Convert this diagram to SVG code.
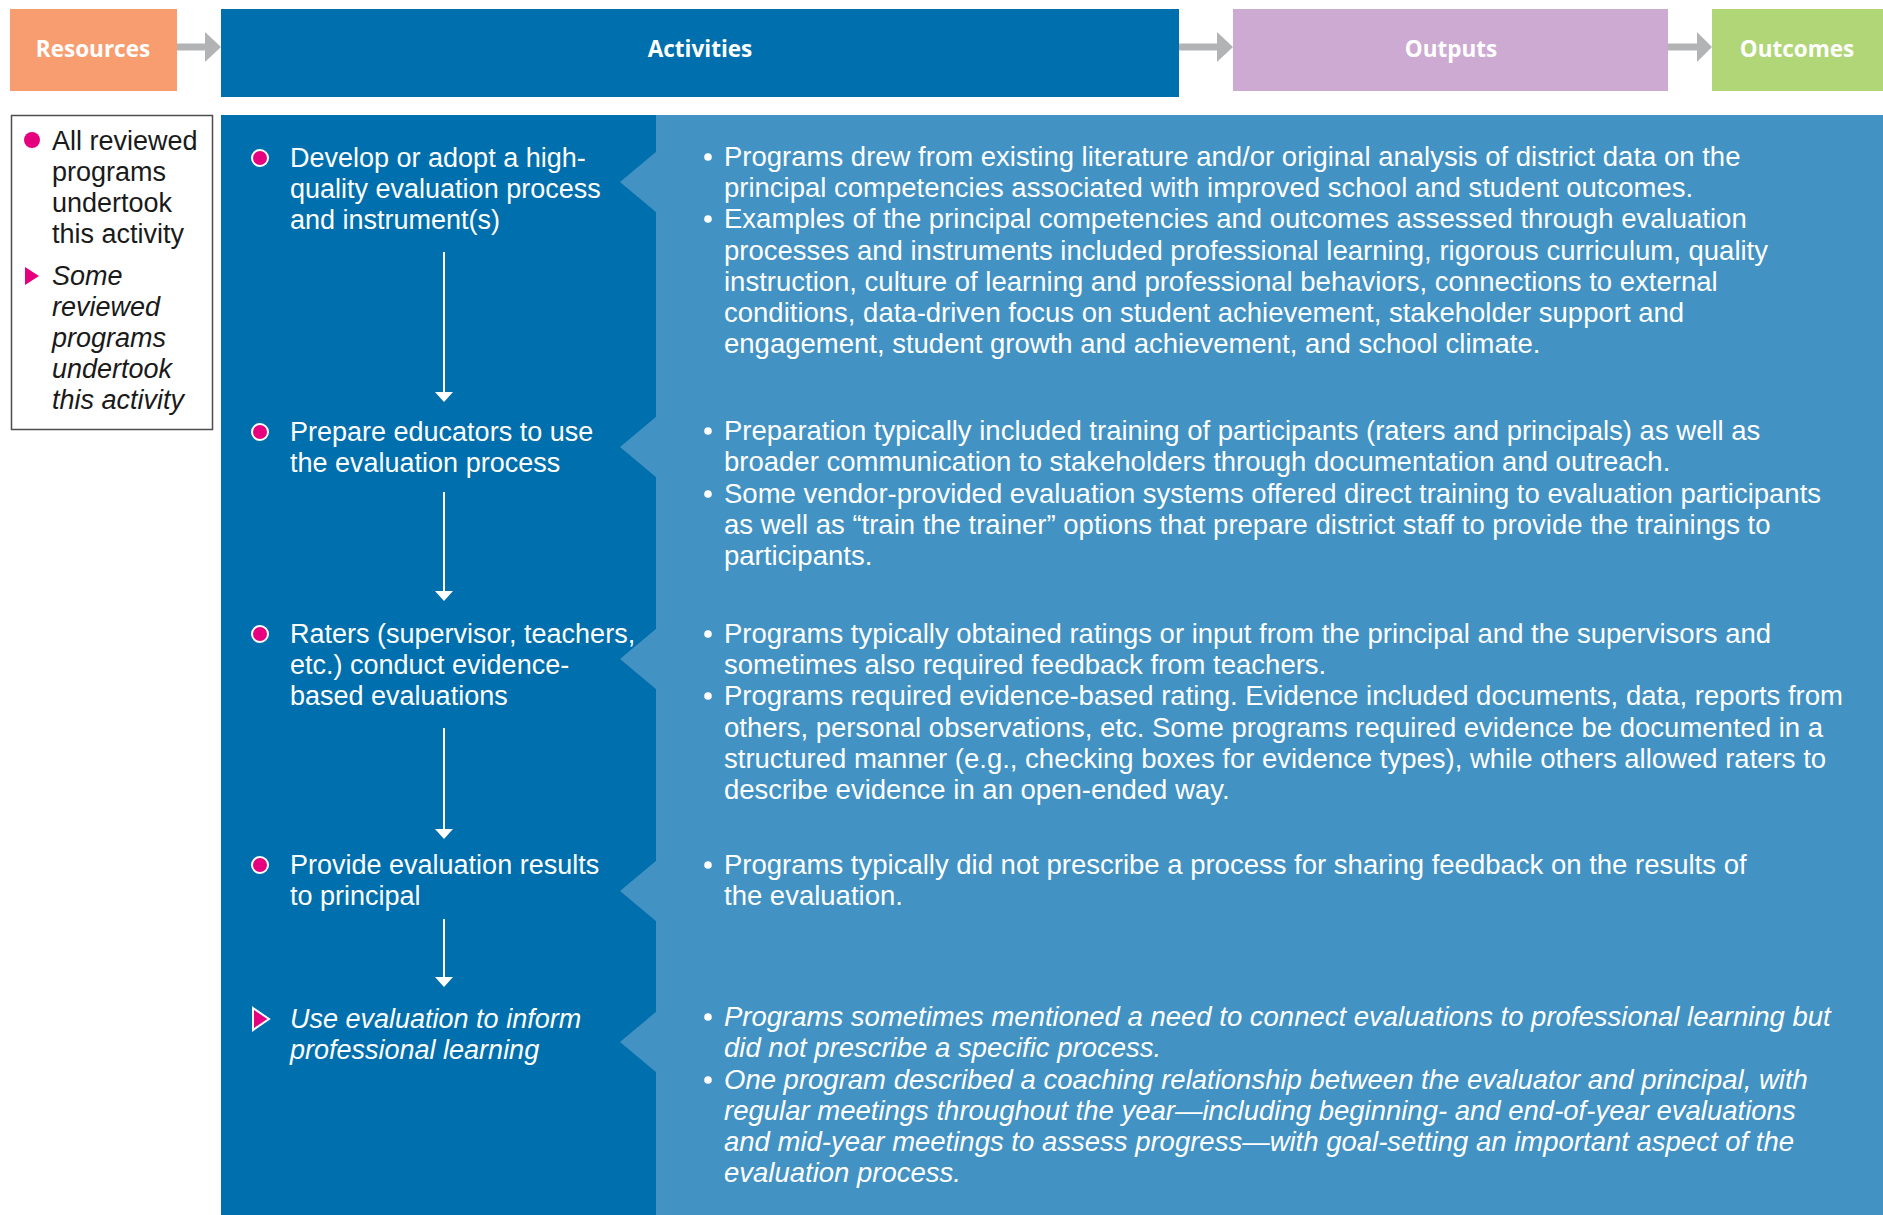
<svg xmlns="http://www.w3.org/2000/svg" width="1883" height="1215" viewBox="0 0 1883 1215">
<defs>
<style>
.hdr{font-family:"Open Sans","Liberation Sans",sans-serif;font-weight:700;font-size:22.5px;fill:#fff;text-anchor:middle}
.t{font-family:"Liberation Sans",Arial,sans-serif;font-size:27px;fill:#fff}
.r{font-size:27.5px}
.lg{font-family:"Liberation Sans",Arial,sans-serif;font-size:27px;fill:#1a1a1a}
.it{font-style:italic}
.pink{fill:#E6007E}
.dot{fill:#E6007E;stroke:#fff;stroke-width:2}
.bul{fill:#fff}
.gr{fill:#B2B3B5}
.va{stroke:#fff;stroke-width:2;fill:none}
.vh{fill:#fff}
</style>
</defs>
<rect width="1883" height="1215" fill="#fff"/>

<g id="resources"><rect x="10" y="9" width="167" height="82" fill="#F79D70"/><text class="hdr" x="93" y="57">Resources</text></g>
<g id="activities"><rect x="221" y="9" width="958" height="88" fill="#006FAD"/><text class="hdr" x="700" y="57">Activities</text></g>
<g id="outputs"><rect x="1233" y="9" width="435" height="82" fill="#CDAAD2"/><text class="hdr" x="1451" y="57">Outputs</text></g>
<g id="outcomes"><rect x="1712" y="9" width="171" height="82" fill="#B0D677"/><text class="hdr" x="1797" y="57">Outcomes</text></g>

<g id="legend">
<rect x="11.5" y="115.5" width="201" height="314" fill="#fff" stroke="#4d4d4d" stroke-width="1.5"/>
<circle class="pink" cx="32" cy="140" r="8"/>
<text class="lg" x="52" y="150">All reviewed</text>
<text class="lg" x="52" y="181">programs</text>
<text class="lg" x="52" y="212">undertook</text>
<text class="lg" x="52" y="243">this activity</text>
<polygon class="pink" points="25,267 39,276 25,285"/>
<text class="lg it" x="52" y="285">Some</text>
<text class="lg it" x="52" y="316">reviewed</text>
<text class="lg it" x="52" y="347">programs</text>
<text class="lg it" x="52" y="378">undertook</text>
<text class="lg it" x="52" y="409">this activity</text>
</g>

<g id="panel">
<rect x="221" y="115" width="435" height="1100" fill="#006FAD"/>
<rect x="656" y="115" width="1227" height="1100" fill="#4292C4"/>
<polygon fill="#4292C4" points="657,151 620,182 657,213"/>
<polygon fill="#4292C4" points="657,416 620,447 657,478"/>
<polygon fill="#4292C4" points="657,628 620,659 657,690"/>
<polygon fill="#4292C4" points="657,860 620,891 657,922"/>
<polygon fill="#4292C4" points="657,1011 620,1042 657,1073"/>
</g>

<g id="activity1">
<circle class="dot" cx="260" cy="158" r="8"/>
<text class="t" x="290" y="167">Develop or adopt a high-</text>
<text class="t" x="290" y="198">quality evaluation process</text>
<text class="t" x="290" y="229">and instrument(s)</text>
</g>
<g id="activity2">
<circle class="dot" cx="260" cy="432" r="8"/>
<text class="t" x="290" y="441">Prepare educators to use</text>
<text class="t" x="290" y="472">the evaluation process</text>
</g>
<g id="activity3">
<circle class="dot" cx="260" cy="634" r="8"/>
<text class="t" x="290" y="643">Raters (supervisor, teachers,</text>
<text class="t" x="290" y="674">etc.) conduct evidence-</text>
<text class="t" x="290" y="705">based evaluations</text>
</g>
<g id="activity4">
<circle class="dot" cx="260" cy="865" r="8"/>
<text class="t" x="290" y="874">Provide evaluation results</text>
<text class="t" x="290" y="905">to principal</text>
</g>
<g id="activity5">
<polygon class="dot" points="253,1008 269,1019 253,1030"/>
<text class="t it" x="290" y="1028">Use evaluation to inform</text>
<text class="t it" x="290" y="1059">professional learning</text>
</g>

<g id="output1">
<circle class="bul" cx="708" cy="157" r="3.8"/>
<text class="t r" x="724" y="166">Programs drew from existing literature and/or original analysis of district data on the</text>
<text class="t r" x="724" y="197">principal competencies associated with improved school and student outcomes.</text>
<circle class="bul" cx="708" cy="219" r="3.8"/>
<text class="t r" x="724" y="228">Examples of the principal competencies and outcomes assessed through evaluation</text>
<text class="t r" x="724" y="260">processes and instruments included professional learning, rigorous curriculum, quality</text>
<text class="t r" x="724" y="291">instruction, culture of learning and professional behaviors, connections to external</text>
<text class="t r" x="724" y="322">conditions, data-driven focus on student achievement, stakeholder support and</text>
<text class="t r" x="724" y="353">engagement, student growth and achievement, and school climate.</text>
</g>
<g id="output2">
<circle class="bul" cx="708" cy="431" r="3.8"/>
<text class="t r" x="724" y="440">Preparation typically included training of participants (raters and principals) as well as</text>
<text class="t r" x="724" y="471">broader communication to stakeholders through documentation and outreach.</text>
<circle class="bul" cx="708" cy="494" r="3.8"/>
<text class="t r" x="724" y="503">Some vendor-provided evaluation systems offered direct training to evaluation participants</text>
<text class="t r" x="724" y="534">as well as “train the trainer” options that prepare district staff to provide the trainings to</text>
<text class="t r" x="724" y="565">participants.</text>
</g>
<g id="output3">
<circle class="bul" cx="708" cy="634" r="3.8"/>
<text class="t r" x="724" y="643">Programs typically obtained ratings or input from the principal and the supervisors and</text>
<text class="t r" x="724" y="674">sometimes also required feedback from teachers.</text>
<circle class="bul" cx="708" cy="696" r="3.8"/>
<text class="t r" x="724" y="705">Programs required evidence-based rating. Evidence included documents, data, reports from</text>
<text class="t r" x="724" y="737">others, personal observations, etc. Some programs required evidence be documented in a</text>
<text class="t r" x="724" y="768">structured manner (e.g., checking boxes for evidence types), while others allowed raters to</text>
<text class="t r" x="724" y="799">describe evidence in an open-ended way.</text>
</g>
<g id="output4">
<circle class="bul" cx="708" cy="865" r="3.8"/>
<text class="t r" x="724" y="874">Programs typically did not prescribe a process for sharing feedback on the results of</text>
<text class="t r" x="724" y="905">the evaluation.</text>
</g>
<g id="output5">
<circle class="bul" cx="708" cy="1017" r="3.8"/>
<text class="t r it" x="724" y="1026">Programs sometimes mentioned a need to connect evaluations to professional learning but</text>
<text class="t r it" x="724" y="1057">did not prescribe a specific process.</text>
<circle class="bul" cx="708" cy="1080" r="3.8"/>
<text class="t r it" x="724" y="1089">One program described a coaching relationship between the evaluator and principal, with</text>
<text class="t r it" x="724" y="1120">regular meetings throughout the year—including beginning- and end-of-year evaluations</text>
<text class="t r it" x="724" y="1151">and mid-year meetings to assess progress—with goal-setting an important aspect of the</text>
<text class="t r it" x="724" y="1182">evaluation process.</text>
</g>

<g id="connectors">
<rect class="gr" x="177" y="43.5" width="29" height="7"/>
<polygon class="gr" points="205,32 221,47 205,62"/>
<rect class="gr" x="1179" y="43.5" width="39" height="7"/>
<polygon class="gr" points="1217,32 1233,47 1217,62"/>
<rect class="gr" x="1668" y="43.5" width="30" height="7"/>
<polygon class="gr" points="1697,32 1712,47 1697,62"/>
<line class="va" x1="444" y1="252" x2="444" y2="393"/>
<polygon class="vh" points="435,392 453,392 444,402"/>
<line class="va" x1="444" y1="492" x2="444" y2="592"/>
<polygon class="vh" points="435,591 453,591 444,601"/>
<line class="va" x1="444" y1="728" x2="444" y2="830"/>
<polygon class="vh" points="435,829 453,829 444,839"/>
<line class="va" x1="444" y1="919" x2="444" y2="978"/>
<polygon class="vh" points="435,977 453,977 444,987"/>
</g>
</svg>
